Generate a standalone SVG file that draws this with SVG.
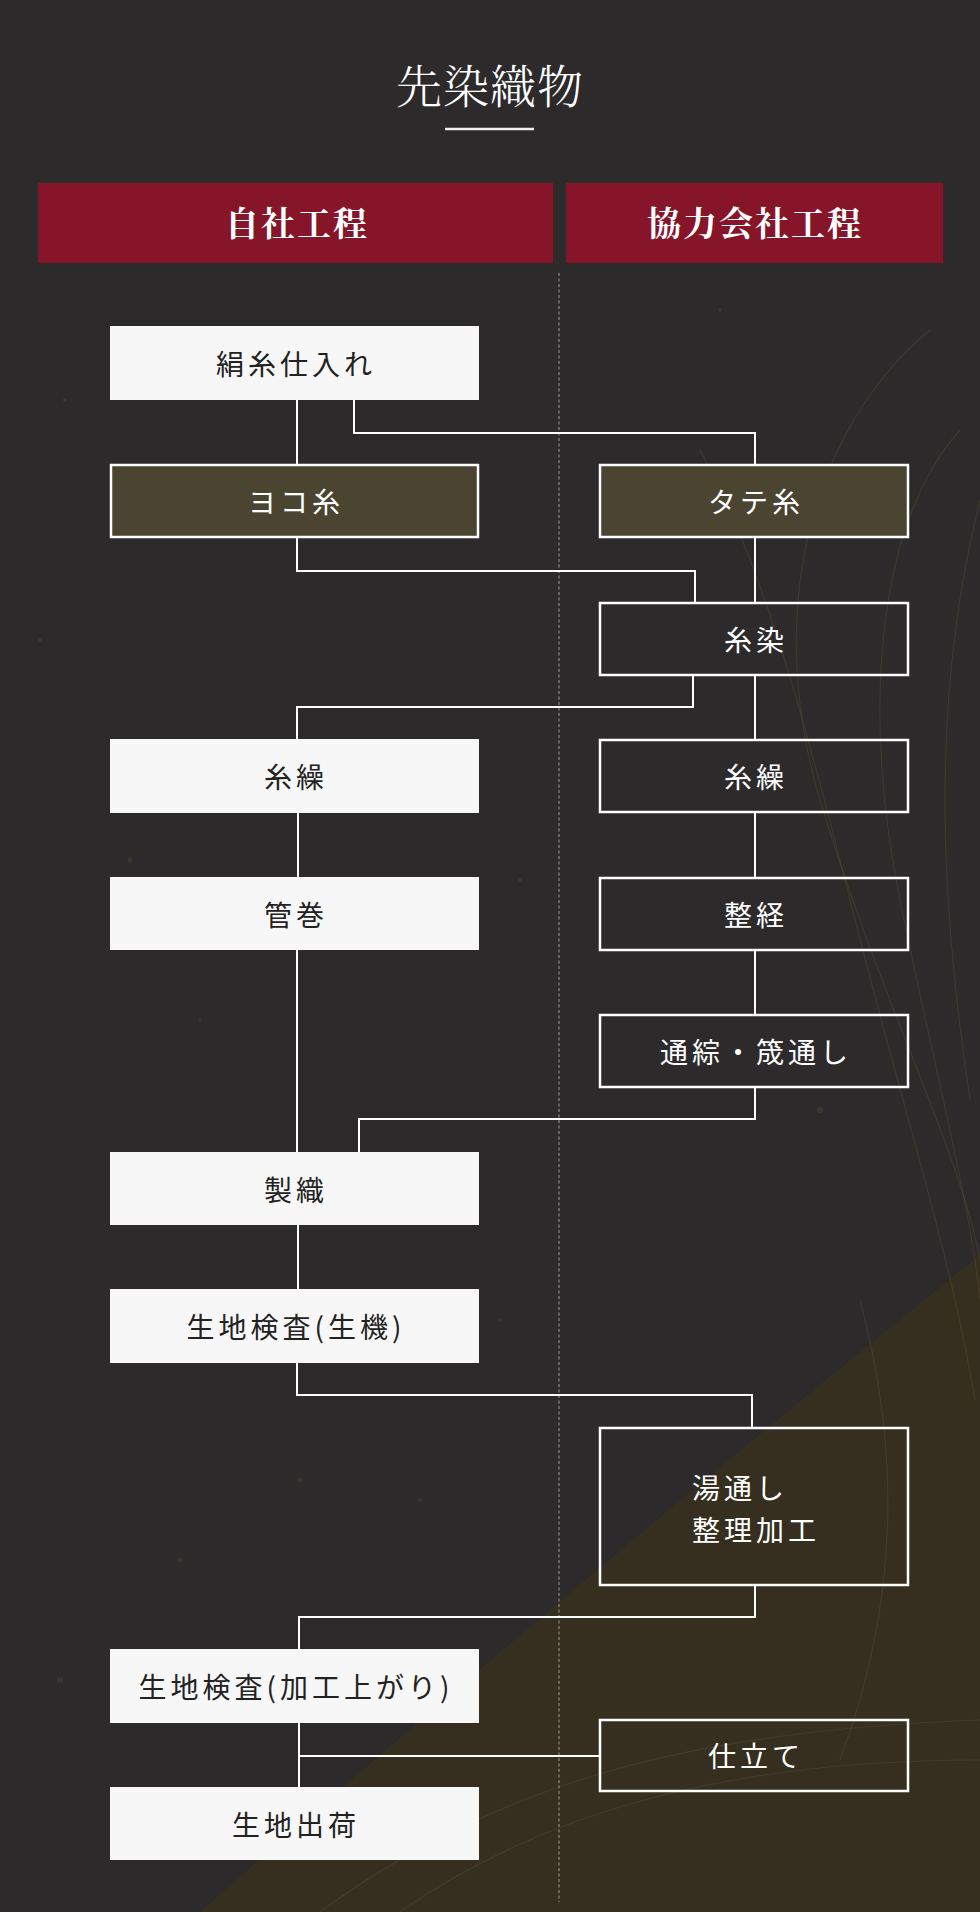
<svg xmlns="http://www.w3.org/2000/svg" width="980" height="1912" viewBox="0 0 980 1912">
  <defs>
    <style>
      .bg { fill: #2d2a2c; }
      .hdr { fill: #87152a; }
      .hdrtxt { font-family: "Noto Serif CJK JP", "Noto Sans CJK JP", sans-serif; font-weight: 700; font-size: 34px; fill: #ffffff; text-anchor: middle; letter-spacing: 2px; }
      .title { font-family: "Noto Serif CJK JP", "Noto Sans CJK JP", sans-serif; font-weight: 300; font-size: 46px; fill: #ffffff; text-anchor: middle; letter-spacing: 1px; }
      .wbox { fill: #f7f7f7; }
      .dbox { fill: none; stroke: #ffffff; stroke-width: 2.5; }
      .obox { fill: #4a4430; stroke: #ffffff; stroke-width: 2.5; }
      .lbl { font-family: "Noto Sans CJK JP", sans-serif; font-weight: 400; font-size: 28px; letter-spacing: 4px; text-anchor: middle; dominant-baseline: central; }
      .lbl-d { fill: #222222; }
      .lbl-w { fill: #ffffff; }
      .conn path { fill: none; stroke: #ffffff; stroke-width: 2; }
      .strand { fill: none; stroke: #8a7a3a; stroke-width: 1.2; opacity: 0.18; }
    </style>
  </defs>

  <!-- background -->
  <rect class="bg" x="0" y="0" width="980" height="1912"/>
  <path d="M980 1255 Q600 1560 200 1912 L980 1912 Z" fill="#362f1f"/>
  <g id="strands">
    <path class="strand" d="M930 330 C820 420 760 600 820 800 C880 1000 960 1150 980 1260"/>
    <path class="strand" d="M960 430 C880 520 860 700 900 900 C930 1050 970 1200 980 1300"/>
    <path class="strand" d="M700 450 C760 560 800 700 850 900 C900 1100 950 1250 975 1400"/>
    <path class="strand" d="M980 500 C930 700 940 900 970 1100"/>
    <path class="strand" d="M320 1912 C500 1780 700 1730 980 1720" style="stroke:#9a9aa0;opacity:0.12"/>
    <path class="strand" d="M400 1912 C560 1800 760 1760 980 1760" style="stroke:#9a9aa0;opacity:0.12"/>
    <path class="strand" d="M860 1300 C900 1450 900 1600 840 1760" style="stroke:#9a9aa0;opacity:0.12"/>
  </g>
  <g id="specks" fill="#5a4e2e" opacity="0.35">
    <circle cx="65" cy="400" r="2"/><circle cx="130" cy="860" r="2.5"/><circle cx="200" cy="1020" r="2"/>
    <circle cx="340" cy="1170" r="3"/><circle cx="420" cy="1500" r="2"/><circle cx="180" cy="1560" r="2.5"/>
    <circle cx="60" cy="1680" r="3"/><circle cx="520" cy="880" r="2"/><circle cx="820" cy="1110" r="3"/>
    <circle cx="900" cy="210" r="2"/><circle cx="720" cy="310" r="2"/><circle cx="40" cy="640" r="2"/>
    <circle cx="500" cy="1320" r="2"/><circle cx="300" cy="1480" r="2.5"/><circle cx="150" cy="1720" r="2"/>
  </g>

  <!-- title -->
  <g id="title">
    <text class="title" x="490" y="103">先染織物</text>
    <line x1="445" y1="129" x2="534" y2="129" stroke="#eeeeee" stroke-width="2.5"/>
  </g>

  <!-- column headers -->
  <g id="header-own">
    <rect class="hdr" x="38" y="183" width="515" height="80"/>
    <text class="hdrtxt" x="297" y="236">自社工程</text>
  </g>
  <g id="header-partner">
    <rect class="hdr" x="566" y="183" width="377" height="80"/>
    <text class="hdrtxt" x="755" y="236">協力会社工程</text>
  </g>

  <!-- divider -->
  <line id="divider" x1="559" y1="273" x2="559" y2="1902" stroke="#b8b4b0" stroke-width="1" stroke-dasharray="3 2.5" opacity="0.8"/>

  <!-- connectors -->
  <g class="conn" id="connectors">
    <path d="M297 400 V464"/>
    <path d="M354 400 V433 H755 V464"/>
    <path d="M297 537 V571 H695 V602"/>
    <path d="M755 537 V602"/>
    <path d="M693 675 V707 H297 V739"/>
    <path d="M755 675 V740"/>
    <path d="M298 813 V877"/>
    <path d="M755 812 V877"/>
    <path d="M755 950 V1014"/>
    <path d="M297 950 V1152"/>
    <path d="M755 1087 V1119 H359 V1152"/>
    <path d="M298 1225 V1289"/>
    <path d="M297 1363 V1395 H752 V1427"/>
    <path d="M755 1585 V1617 H299 V1649"/>
    <path d="M299 1723 V1787"/>
    <path d="M299 1756 H599"/>
  </g>

  <!-- left column nodes -->
  <g id="n-kenshi">
    <rect class="wbox" x="110" y="326" width="369" height="74"/>
    <text class="lbl lbl-d" x="296" y="363">絹糸仕入れ</text>
  </g>
  <g id="n-yokoito">
    <rect class="obox" x="111" y="465" width="367" height="72"/>
    <text class="lbl lbl-w" x="296" y="501">ヨコ糸</text>
  </g>
  <g id="n-itokuri-l">
    <rect class="wbox" x="110" y="739" width="369" height="74"/>
    <text class="lbl lbl-d" x="296" y="776">糸繰</text>
  </g>
  <g id="n-kudamaki">
    <rect class="wbox" x="110" y="877" width="369" height="73"/>
    <text class="lbl lbl-d" x="296" y="914">管巻</text>
  </g>
  <g id="n-seishoku">
    <rect class="wbox" x="110" y="1152" width="369" height="73"/>
    <text class="lbl lbl-d" x="296" y="1189">製織</text>
  </g>
  <g id="n-kiji-kiki">
    <rect class="wbox" x="110" y="1289" width="369" height="74"/>
    <text class="lbl lbl-d" x="296" y="1326">生地検査(生機)</text>
  </g>
  <g id="n-kiji-kako">
    <rect class="wbox" x="110" y="1649" width="369" height="74"/>
    <text class="lbl lbl-d" x="296" y="1686">生地検査(加工上がり)</text>
  </g>
  <g id="n-shukka">
    <rect class="wbox" x="110" y="1787" width="369" height="73"/>
    <text class="lbl lbl-d" x="296" y="1824">生地出荷</text>
  </g>

  <!-- right column nodes -->
  <g id="n-tateito">
    <rect class="obox" x="600" y="465" width="308" height="72"/>
    <text class="lbl lbl-w" x="756" y="501">タテ糸</text>
  </g>
  <g id="n-itozome">
    <rect class="dbox" x="600" y="603" width="308" height="72"/>
    <text class="lbl lbl-w" x="756" y="639">糸染</text>
  </g>
  <g id="n-itokuri-r">
    <rect class="dbox" x="600" y="740" width="308" height="72"/>
    <text class="lbl lbl-w" x="756" y="776">糸繰</text>
  </g>
  <g id="n-seikei">
    <rect class="dbox" x="600" y="878" width="308" height="72"/>
    <text class="lbl lbl-w" x="756" y="914">整経</text>
  </g>
  <g id="n-sokodoshi">
    <rect class="dbox" x="600" y="1015" width="308" height="72"/>
    <text class="lbl lbl-w" x="756" y="1051">通綜・筬通し</text>
  </g>
  <g id="n-yudoshi">
    <rect class="dbox" x="600" y="1428" width="308" height="157"/>
    <text class="lbl lbl-w" x="692" y="1487" style="text-anchor:start">湯通し</text>
    <text class="lbl lbl-w" x="692" y="1529" style="text-anchor:start">整理加工</text>
  </g>
  <g id="n-shitate">
    <rect class="dbox" x="600" y="1720" width="308" height="71"/>
    <text class="lbl lbl-w" x="756" y="1755">仕立て</text>
  </g>
</svg>
